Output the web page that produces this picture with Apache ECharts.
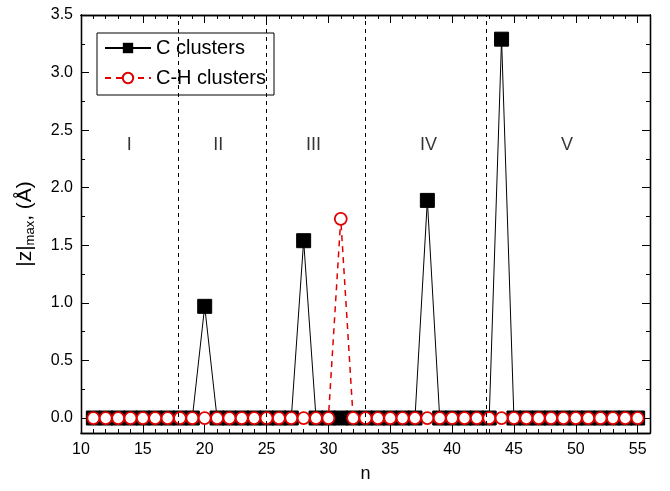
<!DOCTYPE html>
<html>
<head>
<meta charset="utf-8">
<title>|z|max vs n</title>
<script src="https://cdn.jsdelivr.net/npm/echarts@6/dist/echarts.min.js"></script>
<style>
  html, body { margin: 0; padding: 0; background: #fff; }
  #chart { width: 670px; height: 491px; }
</style>
</head>
<body>
<div id="chart"></div>
<script>
// cluster size n
var nValues = [11, 12, 13, 14, 15, 16, 17, 18, 19, 20, 21, 22, 23, 24, 25,
               26, 27, 28, 29, 30, 31, 32, 33, 34, 35, 36, 37, 38, 39, 40,
               41, 42, 43, 44, 45, 46, 47, 48, 49, 50, 51, 52, 53, 54, 55];
// |z|max for pure carbon clusters
var cClusters = [0, 0, 0, 0, 0, 0, 0, 0, 0, 0.97, 0, 0, 0, 0, 0,
                 0, 0, 1.54, 0, 0, 0, 0, 0, 0, 0, 0, 0, 1.89, 0, 0,
                 0, 0, 0, 3.29, 0, 0, 0, 0, 0, 0, 0, 0, 0, 0, 0];
// |z|max for hydrogenated clusters
var chClusters = [0, 0, 0, 0, 0, 0, 0, 0, 0, 0, 0, 0, 0, 0, 0,
                  0, 0, 0, 0, 0, 1.73, 0, 0, 0, 0, 0, 0, 0, 0, 0,
                  0, 0, 0, 0, 0, 0, 0, 0, 0, 0, 0, 0, 0, 0, 0];
// region borders and labels
var borders = [17.9, 25, 33, 42.8];
var regionNames = ['I', 'II', 'III', 'IV', 'V'];
var regionX = [13.9, 21.1, 28.8, 38.1, 49.3];
var regionY = 2.37;

// tick positions
var xMajorTicks = [10, 15, 20, 25, 30, 35, 40, 45, 50, 55];
var xMinorTicks = [11, 12, 13, 14, 16, 17, 18, 19, 21, 22, 23, 24, 26, 27, 28, 29,
                   31, 32, 33, 34, 36, 37, 38, 39, 41, 42, 43, 44, 46, 47, 48, 49,
                   51, 52, 53, 54];
var yMajorTicks = [0, 0.5, 1, 1.5, 2, 2.5, 3, 3.5];
var yMinorTicks = [0.25, 0.75, 1.25, 1.75, 2.25, 2.75, 3.25];

var FONT = '"Liberation Sans", Arial, sans-serif';

function zip(xs, ys) {
    var out = [];
    for (var i = 0; i < xs.length; i++) out.push([xs[i], ys[i]]);
    return out;
}

var myChart = echarts.init(document.getElementById('chart'), null, { renderer: 'canvas' });

function xAxisDef(pos, ticks, tickLen, showLabel) {
    return {
        type: 'value', position: pos, min: 10, max: 56,
        gridIndex: 0,
        axisLine: { show: true, onZero: false, lineStyle: { color: '#000', width: 1.3 } },
        axisTick: { show: true, inside: true, length: tickLen, customValues: ticks,
                    lineStyle: { color: '#000', width: 1 } },
        axisLabel: {
            show: showLabel, customValues: ticks, color: '#000', fontSize: 16, fontFamily: FONT, margin: 9,
            formatter: function (v) { return String(v); }
        },
        splitLine: { show: false },
        name: showLabel ? 'n' : '', nameLocation: 'middle', nameGap: 32,
        nameTextStyle: { color: '#000', fontSize: 18, fontFamily: FONT }
    };
}

function yAxisDef(pos, ticks, tickLen, showLabel) {
    return {
        type: 'value', position: pos, min: -0.13, max: 3.5,
        gridIndex: 0,
        axisLine: { show: true, onZero: false, lineStyle: { color: '#000', width: 1.3 } },
        axisTick: { show: true, inside: true, length: tickLen, customValues: ticks,
                    lineStyle: { color: '#000', width: 1 } },
        axisLabel: {
            show: showLabel, customValues: ticks, color: '#000', fontSize: 16, fontFamily: FONT, margin: 8,
            formatter: function (v) { return v.toFixed(1); }
        },
        splitLine: { show: false },
        name: showLabel ? '{a||z|}{s|max}{a|, (Å)}' : '', nameLocation: 'middle', nameGap: 44,
        nameTextStyle: {
            color: '#000', fontFamily: FONT,
            rich: {
                a: { fontSize: 21, fontFamily: FONT, color: '#000' },
                s: { fontSize: 13, fontFamily: FONT, color: '#000', verticalAlign: 'bottom', padding: [11, 0, 0, 0] }
            }
        }
    };
}

var option = {
    animation: false,
    backgroundColor: '#fff',
    grid: { left: 81, right: 20, top: 15, bottom: 58 },
    legend: {
        orient: 'vertical', left: 97, top: 33,
        borderColor: '#000', borderWidth: 1, borderRadius: 0,
        padding: [5, 8, 7, 7],
        itemWidth: 46, itemHeight: 13, itemGap: 10,
        textStyle: { color: '#000', fontSize: 20, fontFamily: FONT },
        data: ['C clusters', 'C-H clusters']
    },
    xAxis: [
        xAxisDef('bottom', xMajorTicks, 8, true),
        xAxisDef('bottom', xMinorTicks, 4, false),
        xAxisDef('top', xMajorTicks, 8, false),
        xAxisDef('top', xMinorTicks, 4, false)
    ],
    yAxis: [
        yAxisDef('left', yMajorTicks, 8, true),
        yAxisDef('left', yMinorTicks, 4, false),
        yAxisDef('right', yMajorTicks, 8, false),
        yAxisDef('right', yMinorTicks, 4, false)
    ],
    series: [
        {
            name: 'C clusters', type: 'line',
            data: zip(nValues, cClusters),
            symbol: 'rect', symbolSize: 14,
            itemStyle: { color: '#000', borderColor: '#000' },
            lineStyle: { color: '#000', width: 1 },
            z: 3,
            markLine: {
                silent: true, symbol: 'none', label: { show: false },
                lineStyle: { color: '#000', type: [4, 4], width: 1 },
                data: borders.map(function (b) { return { xAxis: b }; })
            }
        },
        {
            name: 'C-H clusters', type: 'line',
            data: zip(nValues, chClusters),
            symbol: 'circle', symbolSize: 12,
            itemStyle: { color: '#fff', borderColor: '#e00000', borderWidth: 1.8 },
            lineStyle: { color: '#e00000', width: 1.5, type: [6, 5] },
            z: 4
        },
        {
            name: 'regions', type: 'scatter',
            data: regionX.map(function (x, i) { return { value: [x, regionY], label: { formatter: regionNames[i] } }; }),
            symbolSize: 0, silent: true,
            label: { show: true, position: 'inside', color: '#000', fontSize: 18, fontFamily: FONT }
        }
    ]
};

myChart.setOption(option);
</script>
</body>
</html>
